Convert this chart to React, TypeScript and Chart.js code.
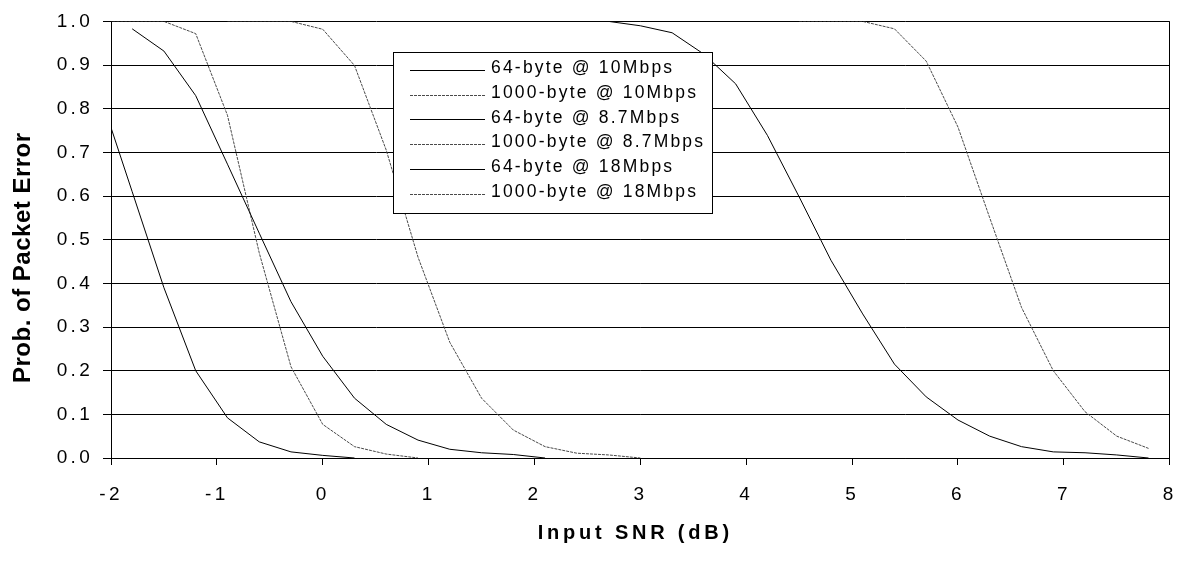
import React, { useEffect, useRef } from 'react';
import { Chart, registerables } from 'chart.js';

Chart.register(...registerables);

const FONT = "'Liberation Sans', Arial, Helvetica, sans-serif";

// ---- data ----
const seriesLabels = [
  '64-byte @ 10Mbps',
  '1000-byte @ 10Mbps',
  '64-byte @ 8.7Mbps',
  '1000-byte @ 8.7Mbps',
  '64-byte @ 18Mbps',
  '1000-byte @ 18Mbps',
];

const snr64at10 = [-1.8, -1.5, -1.2, -0.9, -0.6, -0.3, 0, 0.3, 0.6, 0.9, 1.2, 1.5, 1.8, 2.1];
const per64at10 = [0.983, 0.932, 0.83, 0.673, 0.515, 0.358, 0.233, 0.137, 0.077, 0.041, 0.02, 0.012, 0.008, 0.0];

const snr1000at10 = [-0.9, -0.6, -0.3, 0, 0.3, 0.6, 0.9, 1.2, 1.5, 1.8, 2.1, 2.4, 2.7, 3.0];
const per1000at10 = [1.0, 1.0, 1.0, 0.982, 0.899, 0.705, 0.46, 0.265, 0.137, 0.064, 0.026, 0.011, 0.007, 0.0];

const snr64at87 = [-2.1, -1.8, -1.5, -1.2, -0.9, -0.6, -0.3, 0, 0.3];
const per64at87 = [0.83, 0.61, 0.39, 0.2, 0.092, 0.037, 0.014, 0.006, 0.0];

const snr1000at87 = [-2.1, -1.8, -1.5, -1.2, -0.9, -0.6, -0.3, 0, 0.3, 0.6, 0.9];
const per1000at87 = [1.0, 1.0, 1.0, 0.972, 0.785, 0.47, 0.209, 0.077, 0.026, 0.009, 0.0];

const snr64at18 = [2.7, 3.0, 3.3, 3.6, 3.9, 4.2, 4.5, 4.8, 5.1, 5.4, 5.7, 6.0, 6.3, 6.6, 6.9, 7.2, 7.5, 7.8];
const per64at18 = [1.0, 0.99, 0.974, 0.925, 0.857, 0.739, 0.598, 0.453, 0.33, 0.215, 0.14, 0.087, 0.05, 0.026, 0.014, 0.012, 0.007, 0.0];

const snr1000at18 = [4.5, 4.8, 5.1, 5.4, 5.7, 6.0, 6.3, 6.6, 6.9, 7.2, 7.5, 7.8];
const per1000at18 = [1.0, 1.0, 1.0, 0.983, 0.909, 0.758, 0.55, 0.345, 0.2, 0.106, 0.05, 0.022];

const xMin = -2;
const xMax = 8;
const xStep = 1;
const yMin = 0;
const yMax = 1;
const yStep = 0.1;

const xTitle = 'Input SNR (dB)';
const yTitle = 'Prob. of Packet Error';

// ---- styling ----
const SOLID = { borderColor: '#000000', borderDash: [] as number[] };
const DASHED = { borderColor: '#4a4a4a', borderDash: [3, 1] };

function pts(xs: number[], ys: number[]) {
  return xs.map((x, i) => ({ x, y: ys[i] }));
}

function patchTitle(scale: any, ls: string, dx: number, dy: number) {
  if (!scale || scale.__patched) return;
  scale.__patched = true;
  const proto = Object.getPrototypeOf(scale);
  scale.drawTitle = function () {
    const ctx = this.ctx;
    ctx.save();
    ctx.letterSpacing = ls;
    ctx.translate(dx, dy);
    proto.drawTitle.call(this);
    ctx.restore();
  };
}

const spacingPlugin = {
  id: 'spacingPlugin',
  beforeDraw(chart: any) {
    chart.ctx.letterSpacing = '3.3px';
    patchTitle(chart.scales.x, '3.8px', -5, 0);
    patchTitle(chart.scales.y, '0.5px', 0, 18);
  },
};

const boxLegendPlugin = {
  id: 'boxLegend',
  afterDatasetsDraw(chart: any) {
    const ctx = chart.ctx;
    ctx.save();
    ctx.letterSpacing = '0px';
    ctx.fillStyle = '#ffffff';
    ctx.fillRect(393, 52, 320, 162);
    ctx.strokeStyle = '#000000';
    ctx.lineWidth = 1;
    ctx.setLineDash([]);
    ctx.strokeRect(393.5, 52.5, 319, 161);
    ctx.font = `17.5px ${FONT}`;
    ctx.letterSpacing = '2.2px';
    ctx.textBaseline = 'middle';
    ctx.textAlign = 'left';
    chart.data.datasets.forEach((ds: any, i: number) => {
      const cy = 68.5 + i * 24.7;
      const ly = Math.round(cy + 1.5) + 0.5;
      ctx.beginPath();
      ctx.setLineDash(ds.borderDash || []);
      ctx.strokeStyle = ds.borderColor;
      ctx.lineWidth = 1;
      ctx.moveTo(410, ly);
      ctx.lineTo(485, ly);
      ctx.stroke();
      ctx.setLineDash([]);
      ctx.fillStyle = '#000000';
      ctx.fillText(ds.label, 491, cy);
    });
    ctx.restore();
  },
};

export default function App() {
  const canvasRef = useRef<HTMLCanvasElement | null>(null);

  useEffect(() => {
    if (!canvasRef.current) return;
    Chart.defaults.font.family = FONT;
    Chart.defaults.color = '#000';

    const mk = (label: string, xs: number[], ys: number[], style: any) => ({
      label,
      data: pts(xs, ys),
      borderColor: style.borderColor,
      borderDash: style.borderDash,
      borderWidth: 1,
      pointRadius: 0,
      pointHoverRadius: 0,
      fill: false,
      tension: 0,
    });

    const chart = new Chart(canvasRef.current, {
      type: 'line',
      data: {
        datasets: [
          mk(seriesLabels[0], snr64at10, per64at10, SOLID),
          mk(seriesLabels[1], snr1000at10, per1000at10, DASHED),
          mk(seriesLabels[2], snr64at87, per64at87, SOLID),
          mk(seriesLabels[3], snr1000at87, per1000at87, DASHED),
          mk(seriesLabels[4], snr64at18, per64at18, SOLID),
          mk(seriesLabels[5], snr1000at18, per1000at18, DASHED),
        ],
      },
      options: {
        animation: false,
        responsive: false,
        devicePixelRatio: 1,
        events: [],
        layout: { padding: { top: 21, right: 22, bottom: 0, left: 0 } },
        plugins: {
          legend: { display: false },
          tooltip: { enabled: false },
        },
        scales: {
          x: {
            type: 'linear',
            min: xMin,
            max: xMax,
            afterFit: (s: any) => {
              s.height = 104;
            },
            ticks: {
              stepSize: xStep,
              color: '#000',
              font: { size: 19 },
              padding: 18,
              maxRotation: 0,
              autoSkip: false,
            },
            grid: {
              color: (c: any) => (c.tick && Math.abs(c.tick.value - xMax) < 1e-9 ? '#000' : 'rgba(0,0,0,0)'),
              tickColor: '#000',
              tickLength: 7,
              lineWidth: 1,
            },
            border: { display: true, color: '#000', width: 1 },
            title: {
              display: true,
              text: xTitle,
              color: '#000',
              font: { size: 20, weight: 'bold' },
              padding: { top: 0, bottom: 17 },
            },
          },
          y: {
            type: 'linear',
            min: yMin,
            max: yMax,
            afterFit: (s: any) => {
              s.width = 111;
            },
            ticks: {
              stepSize: yStep,
              color: '#000',
              font: { size: 19 },
              padding: 10,
              callback: (v: any) => Number(v).toFixed(1),
            },
            grid: { color: '#000', tickColor: '#000', tickLength: 8, lineWidth: 1 },
            border: { display: true, color: '#000', width: 1 },
            title: {
              display: true,
              text: yTitle,
              color: '#000',
              font: { size: 24, weight: 'bold' },
              padding: { top: 9, bottom: 0 },
            },
          },
        },
      } as any,
      plugins: [spacingPlugin, boxLegendPlugin],
    });

    return () => {
      chart.destroy();
    };
  }, []);

  return (
    <div style={{ position: 'absolute', left: 0, top: 0, width: 1193, height: 562, background: '#fff' }}>
      <canvas ref={canvasRef} width={1193} height={562} style={{ display: 'block' }} />
    </div>
  );
}
